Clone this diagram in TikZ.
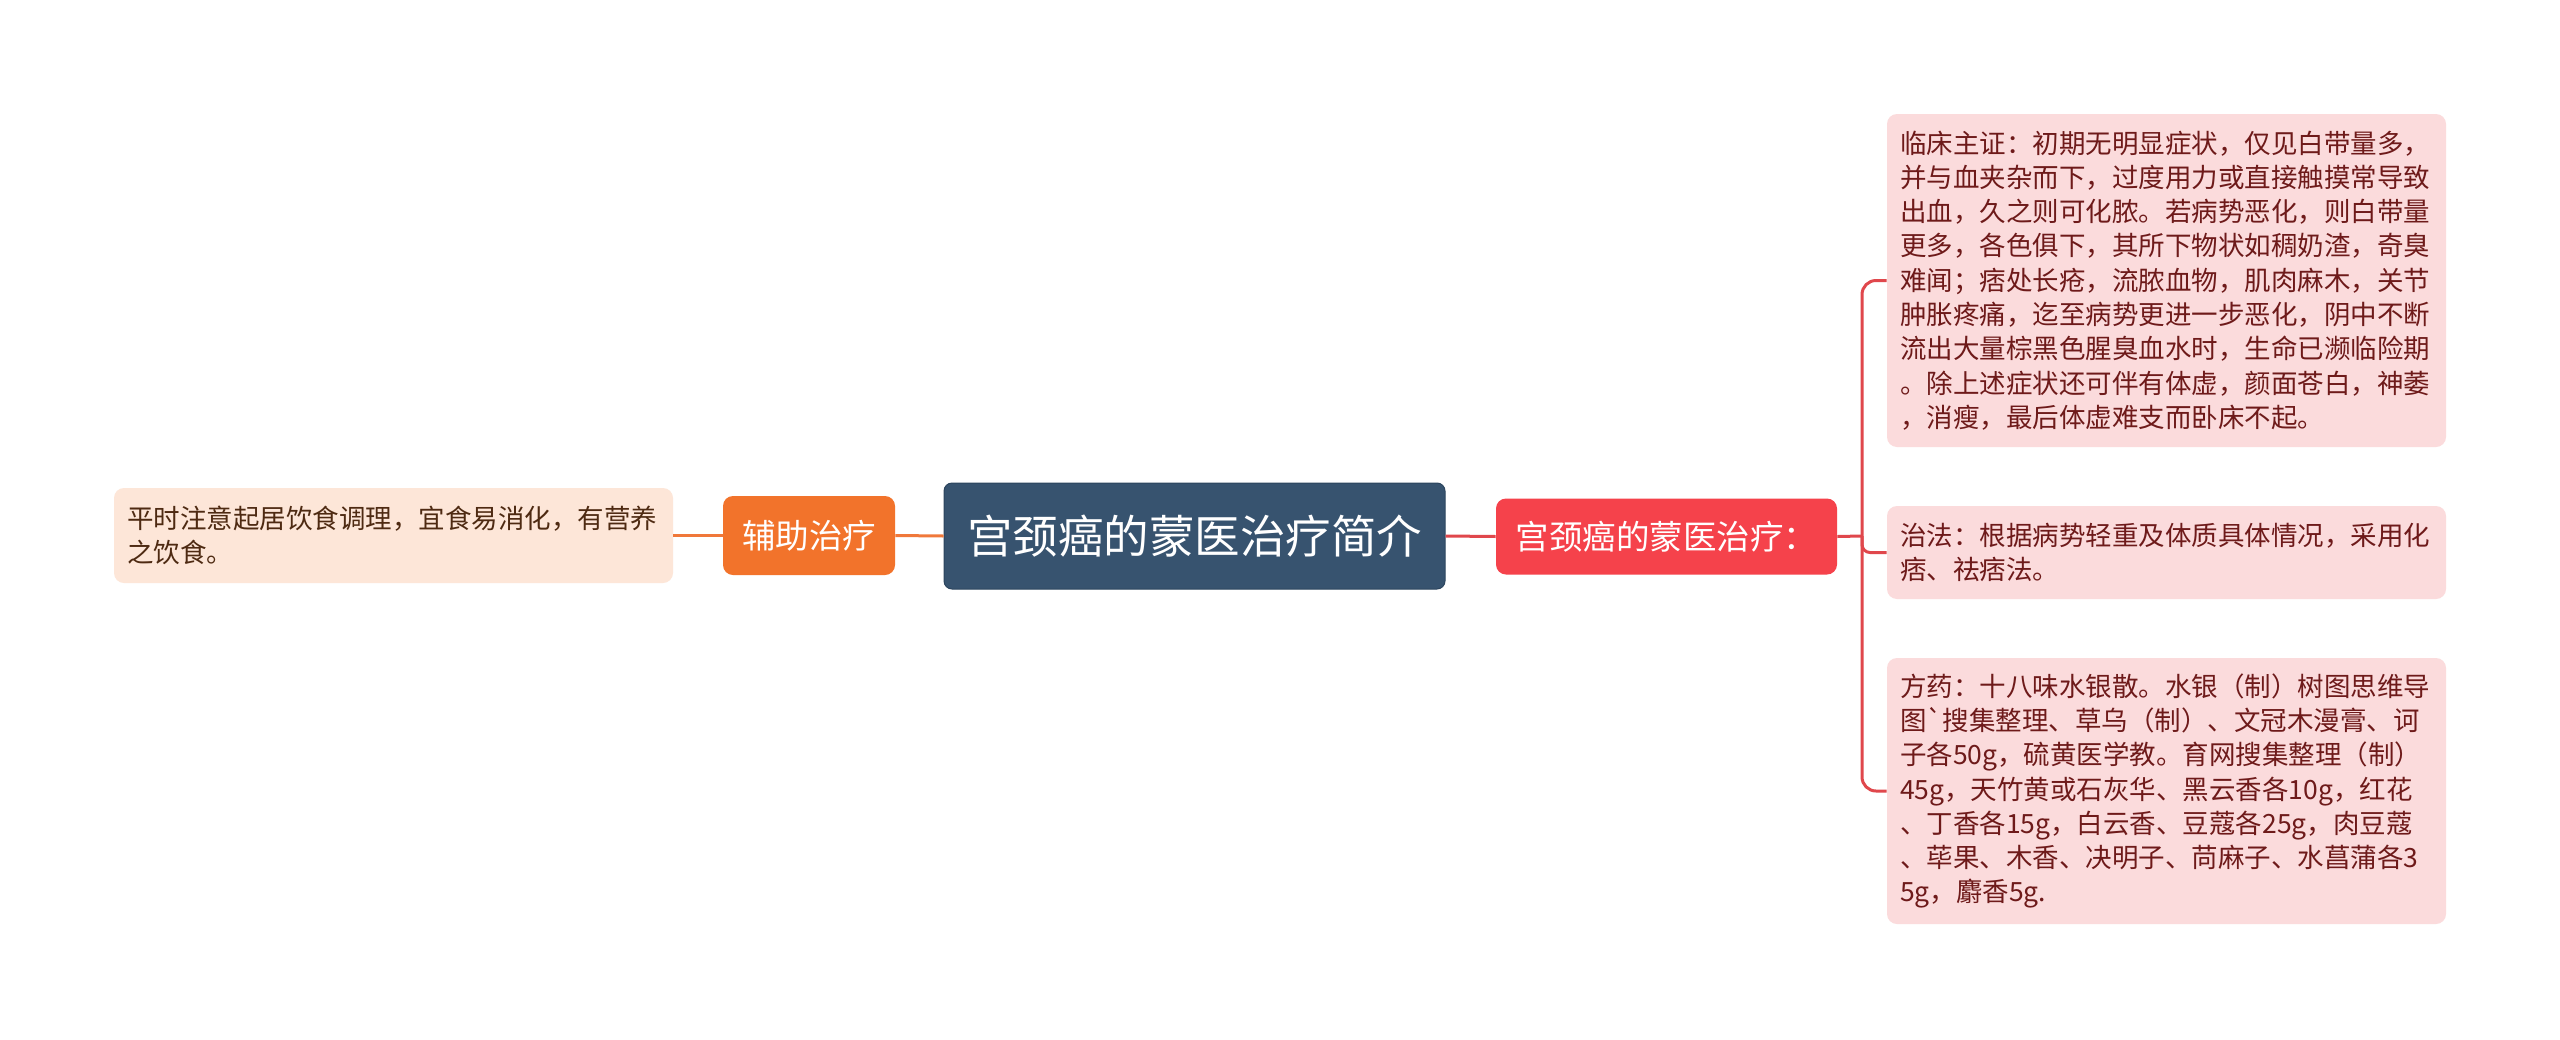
\documentclass[tikz,border=0pt]{standalone}
\usepackage{fontspec}
\setmainfont{Noto Sans CJK SC}[Ligatures=TeXOff]
\definecolor{rootc}{HTML}{37536F}
\definecolor{rootb}{HTML}{2C455E}
\definecolor{redc}{HTML}{F5424B}
\definecolor{orc}{HTML}{F2732B}
\definecolor{leafR}{HTML}{FBDBDC}
\definecolor{leafRt}{HTML}{6E1A1A}
\definecolor{leafL}{HTML}{FDE6D8}
\definecolor{leafLt}{HTML}{4E2A12}
\definecolor{rline}{HTML}{E0474C}
\definecolor{oline}{HTML}{F0783A}
\tikzset{
  rootbox/.style={draw=rootb, line width=0.5pt, fill=rootc, rounded corners=4pt, text=white,
    minimum width=250.5pt, minimum height=53pt, inner sep=0pt,
    font=\fontsize{22.75pt}{27pt}\selectfont},
  redbox/.style={fill=redc, rounded corners=5pt, text=white,
    minimum width=170.5pt, minimum height=38pt, inner sep=0pt,
    font=\fontsize{16.75pt}{20pt}\selectfont},
  orbox/.style={fill=orc, rounded corners=5pt, text=white,
    minimum width=86pt, minimum height=39.5pt, inner sep=0pt,
    font=\fontsize{16.75pt}{20pt}\selectfont},
  leafbox/.style={rounded corners=5pt, text width=266.5pt, inner xsep=6.5pt, inner ysep=0pt,
    align=left, font=\fontsize{13.25pt}{17.15pt}\selectfont},
  rleaf/.style={leafbox, fill=leafR, text=leafRt},
  lleaf/.style={leafbox, fill=leafL, text=leafLt},
  rconn/.style={draw=rline, line width=1.5pt},
  oconn/.style={draw=oline, line width=1.5pt},
}
\begin{document}
\begin{tikzpicture}[x=0.5pt,y=-0.5pt]
\useasboundingbox (0,0) rectangle (2560,1039);
\fill[white] (0,0) rectangle (2560,1039);

\node[rootbox] (root) at (1194.5,536) {宫颈癌的蒙医治疗简介};
\node[redbox] (red) at (1666.5,536.5) {宫颈癌的蒙医治疗：};
\node[orbox] (aux) at (809,535.5) {辅助治疗};

\node[lleaf, minimum height=47.5pt] (leafL) at (393.5,535.5) {平时注意起居饮食调理，宜食易消化，有营养\\之饮食。};

\node[rleaf, minimum height=166.5pt] (leaf1) at (2166.5,280.5) {临床主证：初期无明显症状，仅见白带量多，\\并与血夹杂而下，过度用力或直接触摸常导致\\出血，久之则可化脓。若病势恶化，则白带量\\更多，各色俱下，其所下物状如稠奶渣，奇臭\\难闻；痞处长疮，流脓血物，肌肉麻木，关节\\肿胀疼痛，迄至病势更进一步恶化，阴中不断\\流出大量棕黑色腥臭血水时，生命已濒临险期\\。除上述症状还可伴有体虚，颜面苍白，神萎\\，消瘦，最后体虚难支而卧床不起。};

\node[rleaf, minimum height=46.5pt] (leaf2) at (2166.5,552.5) {治法：根据病势轻重及体质具体情况，采用化\\痞、祛痞法。};

\node[rleaf, minimum height=133pt] (leaf3) at (2166.5,791) {方药：十八味水银散。水银（制）树图思维导\\图`搜集整理、草乌（制）、文冠木漫膏、诃\\子各50g，硫黄医学教。育网搜集整理（制）\\45g，天竹黄或石灰华、黑云香各10g，红花\\、丁香各15g，白云香、豆蔻各25g，肉豆蔻\\、荜果、木香、决明子、苘麻子、水菖蒲各3\\5g，麝香5g.};

% left branch
\draw[oconn] (root.west) -- (aux.east);
\draw[oconn] (aux.west) -- (leafL.east);

% right branch
\coordinate (hub) at (1862,536);
\draw[rconn] (root.east) -- (red.west);
\draw[rconn] (red.east) -- (hub);
\draw[rconn, rounded corners=7pt] (hub) -- (hub |- leaf1.west) -- (leaf1.west);
\draw[rconn, rounded corners=4pt] (hub) -- (hub |- leaf2.west) -- (leaf2.west);
\draw[rconn, rounded corners=7pt] (hub) -- (hub |- leaf3.west) -- (leaf3.west);
\end{tikzpicture}
\end{document}
